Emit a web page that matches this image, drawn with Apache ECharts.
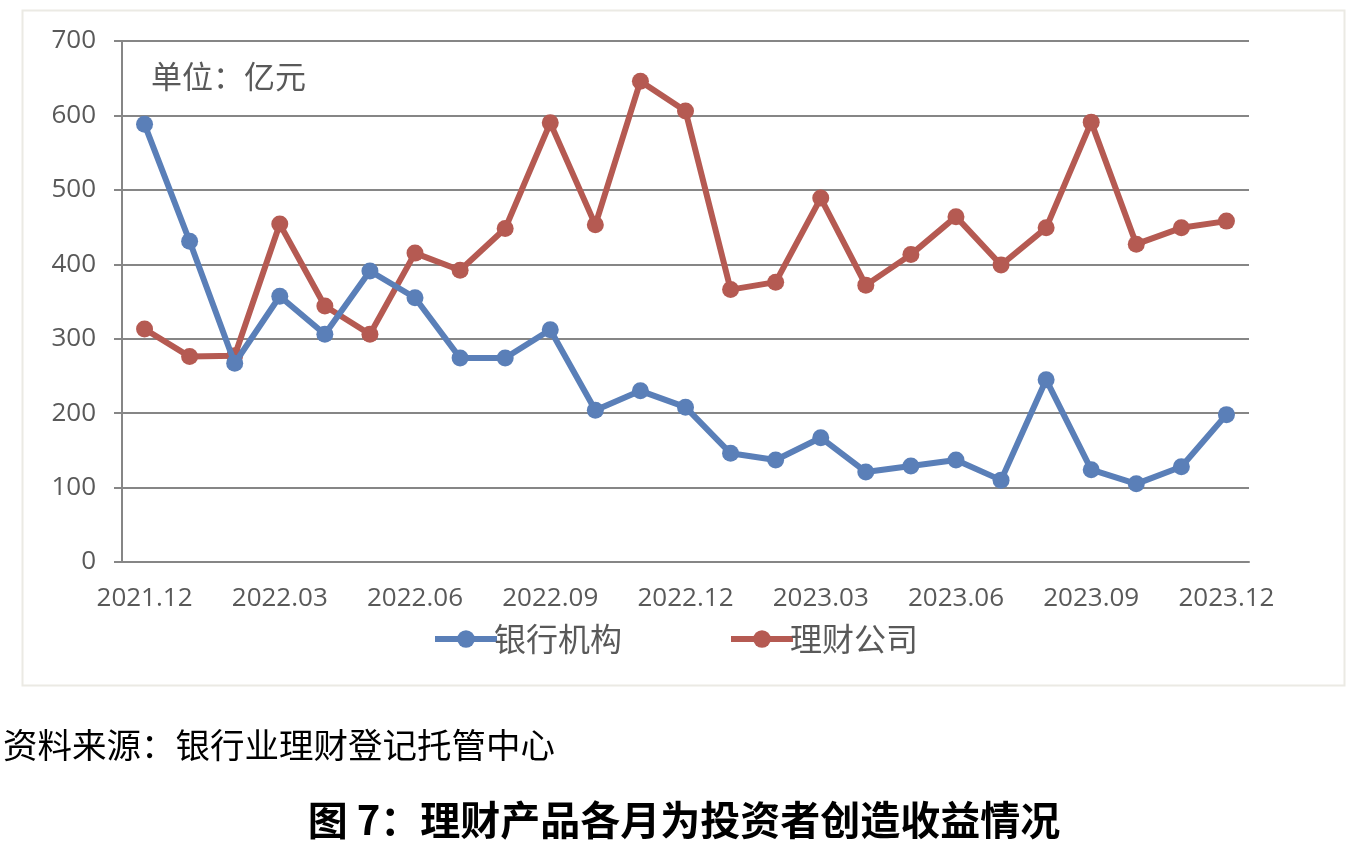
<!DOCTYPE html>
<html><head><meta charset="utf-8">
<script src="https://cdn.jsdelivr.net/npm/echarts@6/dist/echarts.min.js"></script>
<style>html,body{margin:0;padding:0;background:#fff}#c{width:1366px;height:852px}</style>
</head><body><div id="c"></div>
<script>
var categories = ["2021.12","2022.01","2022.02","2022.03","2022.04","2022.05","2022.06","2022.07","2022.08","2022.09","2022.10","2022.11","2022.12","2023.01","2023.02","2023.03","2023.04","2023.05","2023.06","2023.07","2023.08","2023.09","2023.10","2023.11","2023.12"];
var bankValues = [588,431,267,357,306,391,355,274,274,312,204,230,208,146,137,167,121,129,137,110,245,124,105,128,198];
var wealthValues = [313,276,277,454,344,306,415,392,448,590,453,646,606,366,376,489,372,413,464,399,449,591,427,449,458];
var seriesNames = ["银行机构","理财公司"];
var yTicks = {min:0, max:700, interval:100};

var chart = echarts.init(document.getElementById('c'), null, {renderer:'canvas'});
var font = '"Open Sans","Noto Sans CJK SC",sans-serif';
var cjk = '"Noto Sans CJK SC",sans-serif';
chart.setOption({
  backgroundColor:'#fff',
  animation:false,
  grid:{left:122,right:117,top:41,bottom:290,containLabel:false},
  legend:{
    top:618,left:427,itemWidth:62,itemHeight:22,itemGap:106,
    lineStyle:{width:6},
    textStyle:{fontSize:32,color:'#595959',fontFamily:cjk,padding:[0,0,0,-8]},
    data:seriesNames
  },
  xAxis:{
    type:'category',data:categories,boundaryGap:true,
    axisLine:{lineStyle:{color:'#868686',width:2}},
    axisTick:{show:false},
    axisLabel:{interval:2,fontSize:26,color:'#595959',margin:24,fontFamily:font}
  },
  yAxis:{
    type:'value',min:yTicks.min,max:yTicks.max,interval:yTicks.interval,
    axisLine:{show:true,lineStyle:{color:'#868686',width:2}},
    axisTick:{show:true,length:8,lineStyle:{color:'#868686',width:2}},
    splitLine:{lineStyle:{color:'#868686',width:2}},
    axisLabel:{fontSize:26,color:'#595959',margin:26,fontFamily:font}
  },
  series:[
    {name:seriesNames[0],type:'line',data:bankValues,symbol:'circle',symbolSize:17,
     lineStyle:{color:'#5a7fb8',width:6},itemStyle:{color:'#5a7fb8'},z:3},
    {name:seriesNames[1],type:'line',data:wealthValues,symbol:'circle',symbolSize:17,
     lineStyle:{color:'#b55a52',width:6},itemStyle:{color:'#b55a52'},z:2}
  ],
  graphic:[
    {type:'rect',shape:{x:22.5,y:10.5,width:1322,height:675},style:{fill:'none',stroke:'#ebeae4',lineWidth:2},z:-1},
    {type:'text',x:151,y:76,style:{text:'单位：亿元',fontSize:31,fill:'#595959',fontFamily:cjk,textVerticalAlign:'middle'}},
    {type:'text',x:3,y:745,style:{text:'资料来源：银行业理财登记托管中心',fontSize:34.5,fill:'#000',fontFamily:cjk,textVerticalAlign:'middle'}},
    {type:'text',x:684,y:820,style:{text:'图 7：理财产品各月为投资者创造收益情况',fontSize:40,fontWeight:'bold',fill:'#000',fontFamily:cjk,textAlign:'center',textVerticalAlign:'middle'}}
  ]
});
</script></body></html>
